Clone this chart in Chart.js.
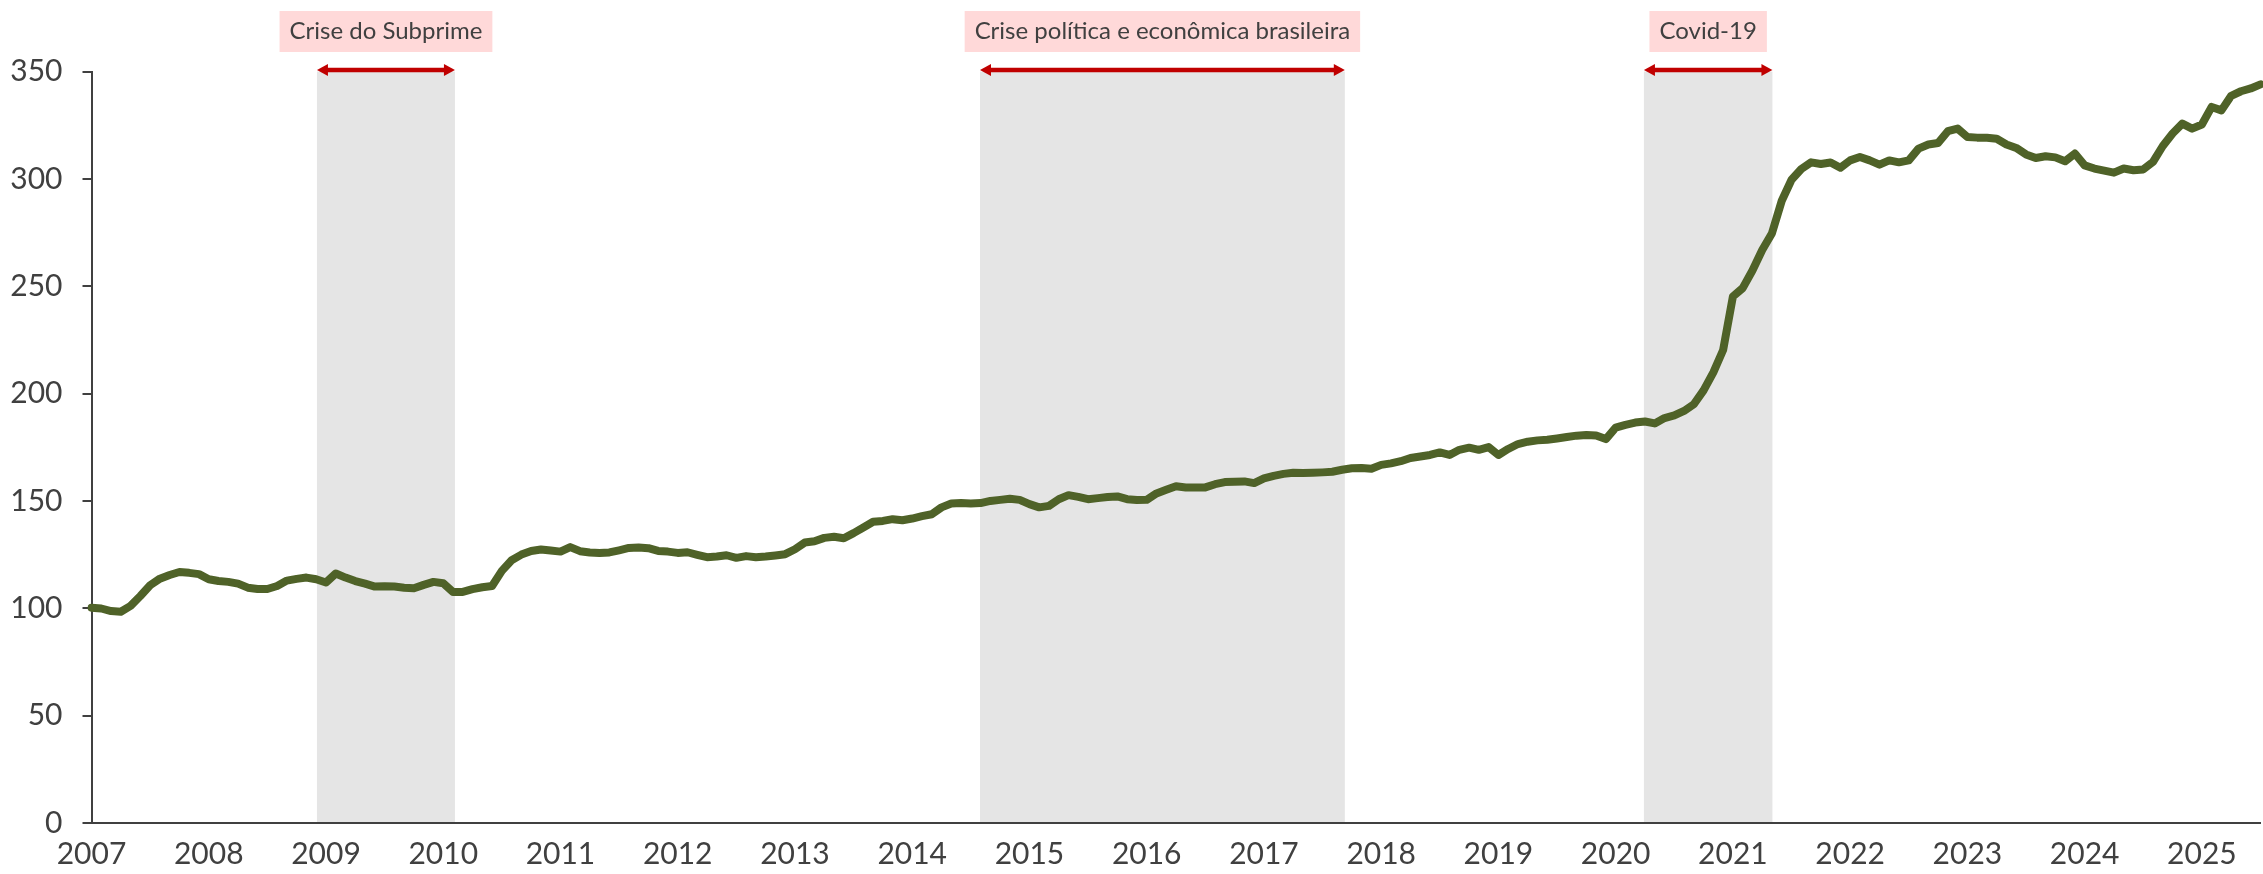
<!DOCTYPE html>
<html>
<head>
<meta charset="utf-8">
<script src="https://cdn.jsdelivr.net/npm/chart.js@4.4.1/dist/chart.umd.min.js"></script>
<style>
  html, body { margin: 0; padding: 0; background: #fff; }
  .wrap { width: 2263px; height: 874px; position: relative; }
</style>
</head>
<body>
<div class="wrap"><canvas id="chart"></canvas></div>
<script>
// monthly index, Jan 2007 = ~100
const years = [2007, 2008, 2009, 2010, 2011, 2012, 2013, 2014, 2015, 2016, 2017, 2018, 2019, 2020, 2021, 2022, 2023, 2024, 2025];
const v2007 = [100.3, 99.9, 98.7, 98.4, 101.1, 105.7, 110.7, 113.8, 115.5, 116.9, 116.5, 115.9];
const v2008 = [113.5, 112.7, 112.3, 111.5, 109.6, 109.0, 109.0, 110.4, 112.9, 113.7, 114.3, 113.5];
const v2009 = [112.0, 116.2, 114.3, 112.7, 111.5, 110.1, 110.3, 110.1, 109.6, 109.3, 110.9, 112.3];
const v2010 = [111.7, 107.6, 107.6, 108.9, 109.8, 110.4, 117.4, 122.4, 125.0, 126.7, 127.4, 126.9];
const v2011 = [126.4, 128.5, 126.6, 126.0, 125.7, 126.0, 127.0, 128.1, 128.3, 128.0, 126.7, 126.4];
const v2012 = [125.8, 126.1, 124.9, 123.8, 124.1, 124.7, 123.5, 124.3, 123.8, 124.1, 124.6, 125.2];
const v2013 = [127.5, 130.6, 131.2, 132.8, 133.3, 132.6, 135.0, 137.6, 140.3, 140.7, 141.5, 141.0];
const v2014 = [141.8, 142.9, 143.8, 147.0, 148.8, 149.0, 148.8, 149.0, 150.0, 150.5, 151.0, 150.5];
const v2015 = [148.5, 147.0, 147.7, 150.8, 152.7, 151.9, 150.8, 151.3, 151.8, 152.1, 150.8, 150.4];
const v2016 = [150.5, 153.5, 155.2, 156.8, 156.3, 156.3, 156.3, 157.8, 158.8, 158.9, 159.1, 158.3];
const v2017 = [160.5, 161.7, 162.6, 163.1, 163.0, 163.1, 163.3, 163.6, 164.5, 165.2, 165.3, 165.0];
const v2018 = [166.8, 167.5, 168.5, 170.0, 170.7, 171.4, 172.6, 171.4, 173.8, 174.8, 173.8, 175.1];
const v2019 = [171.4, 174.2, 176.5, 177.6, 178.2, 178.5, 179.1, 179.8, 180.4, 180.7, 180.5, 178.8];
const v2020 = [184.1, 185.4, 186.5, 187.0, 186.1, 188.6, 189.8, 191.9, 195.0, 201.5, 209.9, 220.3];
const v2021 = [245.2, 249.1, 257.3, 266.9, 274.7, 289.8, 299.6, 304.6, 307.7, 306.9, 307.6, 305.2];
const v2022 = [308.6, 310.2, 308.6, 306.6, 308.6, 307.7, 308.6, 314.1, 316.0, 316.7, 322.2, 323.4];
const v2023 = [319.5, 319.2, 319.1, 318.7, 316.0, 314.4, 311.4, 309.7, 310.5, 310.0, 308.2, 311.8];
const v2024 = [306.3, 304.8, 303.8, 302.9, 304.8, 304.0, 304.4, 307.9, 315.3, 321.1, 325.7, 323.4];
const v2025 = [325.3, 333.5, 331.9, 338.7, 340.8, 342.1, 344.0];

// crisis periods (decimal years)
const crisisNames = ['Crise do Subprime', 'Crise política e econômica brasileira', 'Covid-19'];
const crisisStart = [2008.923, 2014.578, 2020.241];
const crisisEnd = [2010.10, 2017.69, 2021.337];

const yTicks = [0, 50, 100, 150, 200, 250, 300, 350];

const values = [].concat(v2007, v2008, v2009, v2010, v2011, v2012, v2013, v2014, v2015,
  v2016, v2017, v2018, v2019, v2020, v2021, v2022, v2023, v2024, v2025);
const labels = values.map((_, i) => years[Math.floor(i / 12)] + '-' + (i % 12 + 1));

const textColor = '#404040';
const axisColor = '#404040';

// convert decimal year to category index
let yearToIndex = (yr) => (yr - years[0]) * 12;

const crisisPlugin = {
  id: 'crises',
  beforeDraw(chart) {
    const { ctx, scales: { x, y } } = chart;
    const top = y.getPixelForValue(yTicks[yTicks.length - 1]);
    const bottom = y.getPixelForValue(0);
    ctx.save();
    ctx.fillStyle = '#e5e5e5';
    crisisStart.forEach((s, i) => {
      const x1 = x.getPixelForValue(yearToIndex(s));
      const x2 = x.getPixelForValue(yearToIndex(crisisEnd[i]));
      ctx.fillRect(x1, top, x2 - x1, bottom - top);
    });
    ctx.restore();
  },
  afterDraw(chart) {
    const { ctx, scales: { x, y } } = chart;
    const top = y.getPixelForValue(yTicks[yTicks.length - 1]);
    const ay = top - 1.5;
    ctx.save();
    crisisStart.forEach((s, i) => {
      const x1 = x.getPixelForValue(yearToIndex(s));
      const x2 = x.getPixelForValue(yearToIndex(crisisEnd[i]));
      // arrow
      ctx.strokeStyle = '#c00000';
      ctx.fillStyle = '#c00000';
      ctx.lineWidth = 4.5;
      ctx.beginPath();
      ctx.moveTo(x1 + 6, ay);
      ctx.lineTo(x2 - 6, ay);
      ctx.stroke();
      ctx.beginPath();
      ctx.moveTo(x1, ay);
      ctx.lineTo(x1 + 11, ay - 6);
      ctx.lineTo(x1 + 11, ay + 6);
      ctx.closePath();
      ctx.fill();
      ctx.beginPath();
      ctx.moveTo(x2, ay);
      ctx.lineTo(x2 - 11, ay - 6);
      ctx.lineTo(x2 - 11, ay + 6);
      ctx.closePath();
      ctx.fill();
      // label box
      ctx.font = '24px Lato';
      const w = ctx.measureText(crisisNames[i]).width + 20;
      const cx = (x1 + x2) / 2;
      ctx.fillStyle = '#ffd9d9';
      ctx.fillRect(cx - w / 2, 11, w, 41);
      ctx.fillStyle = textColor;
      ctx.textAlign = 'center';
      ctx.textBaseline = 'middle';
      ctx.fillText(crisisNames[i], cx, 31);
    });
    ctx.restore();
  }
};

Chart.defaults.font.family = 'Lato';
Chart.defaults.color = textColor;

new Chart(document.getElementById('chart'), {
  type: 'line',
  data: {
    labels: labels,
    datasets: [{
      data: values,
      borderColor: '#4f6228',
      borderWidth: 8,
      pointRadius: 0,
      tension: 0,
      borderJoinStyle: 'round',
      borderCapStyle: 'round'
    }]
  },
  options: {
    responsive: true,
    maintainAspectRatio: false,
    devicePixelRatio: 1,
    animation: false,
    layout: { padding: { top: 71.5, right: 2.5, left: 0, bottom: 0 } },
    plugins: { legend: { display: false }, tooltip: { enabled: false } },
    scales: {
      x: {
        grid: { display: false },
        border: { display: true, color: axisColor, width: 2 },
        ticks: {
          autoSkip: false,
          maxRotation: 0,
          minRotation: 0,
          padding: 5,
          font: { size: 30 },
          color: textColor,
          callback: (val, i) => (i % 12 === 0 ? String(years[i / 12]) : null)
        },
        afterFit: (scale) => { scale.height = 51; }
      },
      y: {
        min: 0,
        max: 350,
        grid: { display: true, drawOnChartArea: false, drawTicks: true, tickLength: 9, color: axisColor, lineWidth: 2 },
        border: { display: true, color: axisColor, width: 2 },
        ticks: {
          stepSize: 50,
          padding: 20,
          font: { size: 30 },
          color: textColor
        },
        afterFit: (scale) => { scale.width = 91.5; }
      }
    }
  },
  plugins: [crisisPlugin]
});
</script>
</body>
</html>
